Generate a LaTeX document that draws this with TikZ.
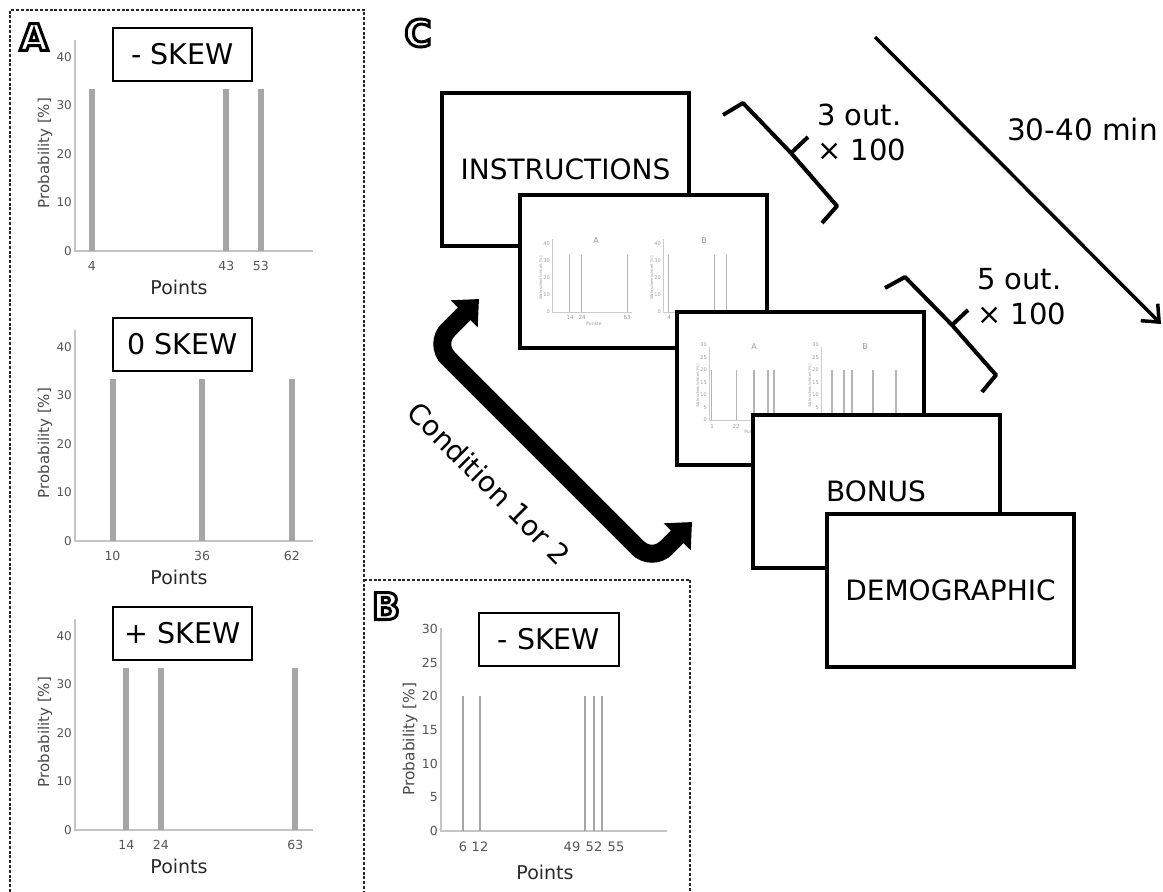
\documentclass[tikz,border=0pt]{standalone}
\usepackage{fontspec}
\setmainfont{DejaVu Sans}
\usetikzlibrary{arrows.meta}
\definecolor{axisgray}{HTML}{C4C4C4}
\definecolor{bargray}{HTML}{A6A6A6}
\definecolor{tickgray}{HTML}{555555}
\definecolor{labgray}{HTML}{2A2A2A}
\definecolor{thgray}{HTML}{CCCCCC}
\definecolor{thbarc}{HTML}{B4B4B4}
\definecolor{thtext}{HTML}{9A9A9A}
\tikzset{
 dashbox/.style={draw=black!85, line width=1.1pt, dash pattern=on 3pt off 1.8pt},
 axisline/.style={draw=axisgray, line width=1.6pt},
 barA/.style={draw=bargray, line width=6pt},
 barB/.style={draw=bargray, line width=2.6pt},
 ticklab/.style={text=tickgray, font=\fontsize{12}{12}\selectfont, anchor=east, inner sep=0pt},
 xlab/.style={text=tickgray, font=\fontsize{12.5}{12.5}\selectfont, inner sep=0pt},
 ptslab/.style={text=labgray, font=\fontsize{19}{19}\selectfont, inner sep=0pt},
 problab/.style={text=labgray!85, font=\fontsize{15}{15}\selectfont, rotate=90, inner sep=0pt},
 titlebox/.style={draw=black, line width=2pt, fill=white, minimum width=139pt, minimum height=53pt, inner sep=0pt, font=\fontsize{28.5}{28.5}\selectfont},
 lett/.style={font=\fontsize{37}{37}\bfseries\selectfont, inner sep=0pt},
 screen/.style={draw=black, line width=4pt, fill=white, minimum width=247pt, minimum height=153pt, inner sep=0pt, font=\fontsize{28}{28}\selectfont},
 thax/.style={draw=thgray, line width=0.8pt},
 thbar/.style={draw=thbarc, line width=1.3pt},
 thtick/.style={text=thtext, font=\fontsize{5}{5}\selectfont, inner sep=0pt, anchor=east},
 thlab/.style={text=thtext, font=\fontsize{5.5}{5.5}\selectfont, inner sep=0pt},
 thtitle/.style={text=thtext, font=\fontsize{8}{8}\selectfont, inner sep=0pt},
 thylab/.style={text=thtext, font=\fontsize{3.8}{3.8}\selectfont, inner sep=0pt, rotate=90},
 bracketline/.style={draw=black, line width=4pt, line join=round},
 bigtext/.style={font=\fontsize{29}{35}\selectfont, inner sep=0pt, align=left, anchor=west},
}
\newcommand{\skewchart}[6]{%
  \draw[axisline] (75,#1-211) -- (75,#1) -- (313,#1);
  \foreach \v in {0,10,20,30,40}
    \node[ticklab] (#6y\v) at (72,#1-4.85*\v) {\v};
  \foreach \p in {#2,#3,#4} {
    \draw[barA] (78+3.45*\p,#1) -- (78+3.45*\p,#1-161.7);
    \node[xlab] (#6x\p) at (78+3.45*\p,#1+15) {\p};
  }
  \node[ptslab] (#6pts) at (179,#1+36) {Points};
  \node[problab] (#6prob) at (45,#1-98) {Probability [\%]};
  \node[titlebox] (#6title) at (182.5,#1-197) {#5};
}
\newcommand{\thchart}[7]{%
  \draw[thax] (#1,#2-73) -- (#1,#2) -- (#1+80,#2);
  \foreach \v in {#4} \node[thtick] (#7t\v) at (#1-2,#2-#3*\v) {\v};
  \foreach \bx in {#5} \draw[thbar] (\bx,#2) -- (\bx,#6);
  \node[thylab] (#7yl) at (#1-11,#2-34) {Wahrscheinlichkeit [\%]};
}
\newcommand{\outlinedtext}[1]{\special{pdf:literal direct 2 Tr 3 w 1 g 0 G}#1\special{pdf:literal direct 0 Tr 0 g 0 G}}
\begin{document}
\begin{tikzpicture}[x=1pt,y=-1pt]
\fill[white] (0,0) rectangle (1163,892);
\useasboundingbox (0,0) rectangle (1163,892);

% panel frames
\draw[dashbox] (10,892) -- (10,10) -- (364,10) -- (364,892);
\draw[dashbox] (364,580) -- (690,580) -- (690,892);

% panel letters
\node[lett] (lA) at (34,37) {\outlinedtext{A}};
\node[lett] (lB) at (386,606) {\outlinedtext{B}};
\node[lett] (lC) at (418,33) {\outlinedtext{C}};

% panel A charts
\skewchart{251}{4}{43}{53}{- SKEW}{ca}
\skewchart{541}{10}{36}{62}{0 SKEW}{cb}
\skewchart{830}{14}{24}{63}{+ SKEW}{cc}

% panel B chart
\draw[axisline] (441,628) -- (441,831) -- (667,831);
\foreach \v in {0,5,10,15,20,25,30}
  \node[ticklab, font=\fontsize{12.5}{12.5}\selectfont] (by\v) at (438,831-6.74*\v) {\v};
\foreach \bx in {463,480,585,594,602}
  \draw[barB] (\bx,831) -- (\bx,696);
\node[xlab, font=\fontsize{13}{13}\selectfont] (bx6) at (463,847) {6};
\node[xlab, font=\fontsize{13}{13}\selectfont] (bx12) at (480,847) {12};
\node[xlab, font=\fontsize{13}{13}\selectfont] (bx49) at (572,847) {49};
\node[xlab, font=\fontsize{13}{13}\selectfont] (bx52) at (594,847) {52};
\node[xlab, font=\fontsize{13}{13}\selectfont] (bx55) at (616,847) {55};
\node[ptslab] (bpts) at (545,872) {Points};
\node[problab, font=\fontsize{15.4}{15.4}\selectfont] (bprob) at (410,739) {Probability [\%]};
\node[titlebox, minimum width=140pt] (btitle) at (549,639.5) {- SKEW};

% panel C: screens
\node[screen] (instr) at (565.5,169.5) {INSTRUCTIONS};

\node[screen] (scr1) at (643.5,271) {};
\thchart{552}{312}{1.7}{0,10,20,30,40}{569.5,581.3,627.3}{255.4}{tA}
\node[thtitle] (s1A) at (596,241) {A};
\node[thlab] (s1x14) at (570,317) {14};
\node[thlab] (s1x24) at (582,317) {24};
\node[thlab] (s1x63) at (627,317) {63};
\node[thlab, font=\fontsize{4.5}{4.5}\selectfont] (s1pts) at (594,324) {Punkte};
\thchart{663}{312}{1.7}{0,10,20,30,40}{668.7,714.7,726.5}{255.4}{tB}
\node[thtitle] (s1B) at (704,241) {B};
\node[thlab] (s1x4) at (669,317) {4};

\node[screen] (scr2) at (800.5,388) {};
\thchart{709}{420}{2.5}{0,5,10,15,20,25,30}{711.7,736.5,754,768,774}{370}{tC}
\node[thtitle] (s2A) at (754,347) {A};
\node[thlab] (s2x1) at (712,426) {1};
\node[thlab] (s2x22) at (736,426) {22};
\node[thlab, font=\fontsize{4.5}{4.5}\selectfont] (s2pts) at (752,432) {Punkte};
\thchart{821}{420}{2.5}{0,5,10,15,20,25,30}{832,844,852,873,896}{370}{tD}
\node[thtitle] (s2B) at (865,347) {B};

\node[screen] (bonus) at (876,491.5) {BONUS};
\node[screen] (demo) at (950.5,590) {DEMOGRAPHIC};

% brackets
\coordinate (b1a) at (723,115);
\coordinate (b1b) at (743,103);
\coordinate (b1m) at (791,153);
\coordinate (b1t) at (808,137);
\coordinate (b1c) at (837,206);
\coordinate (b1d) at (822,223);
\draw[bracketline] (b1a) -- (b1b) -- (b1m) -- (b1c) -- (b1d);
\draw[bracketline] (b1m) -- (b1t);
\node[bigtext] (out3) at (817,132.5) {3 out.\\× 100};

\coordinate (b2a) at (885,288);
\coordinate (b2b) at (905,277);
\coordinate (b2m) at (952,325);
\coordinate (b2t) at (968,310);
\coordinate (b2c) at (996,375);
\coordinate (b2d) at (982,392);
\draw[bracketline] (b2a) -- (b2b) -- (b2m) -- (b2c) -- (b2d);
\draw[bracketline] (b2m) -- (b2t);
\node[bigtext] (out5) at (977,297) {5 out.\\× 100};

% time arrow
\coordinate (tstart) at (875,37);
\coordinate (tend) at (1161,324);
\draw[line width=3.5pt, -{Straight Barb[length=14pt,width=24pt]}] (tstart) -- (tend);
\node[font=\fontsize{29.5}{29.5}\selectfont, inner sep=0pt, anchor=west] (time) at (1007,129) {30-40 min};

% condition arrow
\coordinate (ctip1) at (479,299);
\coordinate (cc1) at (434,344);
\coordinate (cc2) at (652,562);
\coordinate (ctip2) at (692,522);
\draw[line width=18pt, rounded corners=20pt, {Triangle[length=21pt,width=37pt]}-{Triangle[length=21pt,width=37pt]}] (ctip1) -- (cc1) -- (cc2) -- (ctip2);
\node[font=\fontsize{28}{28}\selectfont, rotate=-45, inner sep=0pt] (cond) at (489,483) {Condition 1or 2};
\end{tikzpicture}
\end{document}
